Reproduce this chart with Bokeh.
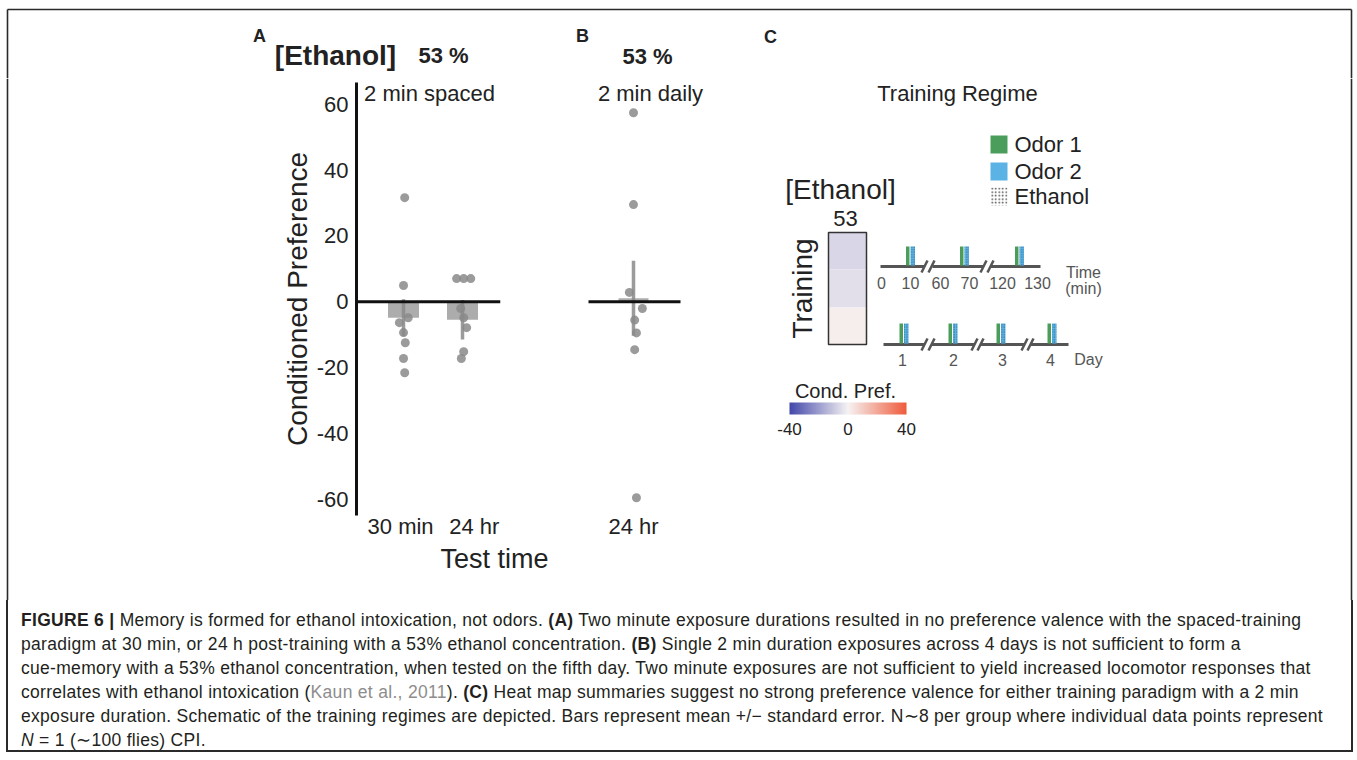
import math
import numpy as np
from bokeh.plotting import figure
from bokeh.models import (Range1d, FixedTicker, Span, LinearColorMapper, Div, ColumnDataSource,
                          Title, PrintfTickFormatter)
from bokeh.layouts import column, row
from bokeh.core.properties import value
from bokeh.embed import file_html
from bokeh.resources import INLINE
from bokeh.transform import linear_cmap

FONT = "Liberation Sans"
W, H = 1357, 760

# ---------------- data ----------------
yticks = [-60, -40, -20, 0, 20, 40, 60]
a_categories = ["30 min", "24 hr"]
a_label_offsets = [-0.05, 0.2]        # tick labels sit slightly off the bar centres
a_means = [-4.9, -5.5]
a_sems = [5.6, 6.0]
a_30min_values = [31.6, 4.9, -4.9, -6.4, -9.4, -12.5, -17.3, -21.6]
a_30min_jitter = [0.02, 0.0, 0.08, -0.07, 0.0, 0.03, 0.0, 0.02]
a_24hr_values = [7.0, 7.0, 7.0, -2.1, -4.9, -7.9, -15.2, -17.3]
a_24hr_jitter = [-0.10, 0.02, 0.14, -0.03, 0.02, 0.07, 0.02, -0.02]

b_categories = ["24 hr"]
b_means = [1.0]
b_sems = [11.4]
b_24hr_values = [57.4, 29.5, 2.8, -2.1, -5.6, -9.5, -14.6, -59.6]
b_24hr_jitter = [0.0, 0.0, -0.07, 0.15, 0.02, 0.05, 0.02, 0.05]

heat_rows = ["spaced 30 min", "spaced 24 hr", "daily 24 hr"]   # top to bottom
heat_values = [-6.5, -4.5, 1.5]
cbar_ticks = [-40, 0, 40]

spaced_tick_labels = ["0", "10", "60", "70", "120", "130"]
daily_tick_labels = ["1", "2", "3", "4"]
legend_labels = ["Odor 1", "Odor 2", "Ethanol"]

caption_lines = [
    "<b>FIGURE 6 |</b> Memory is formed for ethanol intoxication, not odors. <b>(A)</b> Two minute exposure durations resulted in no preference valence with the spaced-training",
    "paradigm at 30 min, or 24 h post-training with a 53% ethanol concentration. <b>(B)</b> Single 2 min duration exposures across 4 days is not sufficient to form a",
    "cue-memory with a 53% ethanol concentration, when tested on the fifth day. Two minute exposures are not sufficient to yield increased locomotor responses that",
    "correlates with ethanol intoxication (<span style=\"color:#8d8d8d\">Kaun et al., 2011</span>). <b>(C)</b> Heat map summaries suggest no strong preference valence for either training paradigm with a 2 min",
    "exposure duration. Schematic of the training regimes are depicted. Bars represent mean +/&minus; standard error. N&sim;8 per group where individual data points represent",
    "<i>N</i> = 1 (&sim;100 flies) CPI.",
]

# ---------------- styles ----------------
INK = "#222222"
GREY_TXT = "#555555"
DOT = "#8a8a8a"
BAR = "#a3a3a3"
GREEN = "#4a9d5b"
BLUE = "#5ab3e4"
FRAME = "#2a2a2a"


def hex2rgb(h):
    h = h.lstrip("#")
    return tuple(int(h[i:i + 2], 16) for i in (0, 2, 4))


def make_palette(c_lo, c_mid, c_hi, n=256):
    lo, mid, hi = hex2rgb(c_lo), hex2rgb(c_mid), hex2rgb(c_hi)
    out = []
    for i in range(n):
        t = i / (n - 1)
        a, b, u = (lo, mid, t / 0.5) if t < 0.5 else (mid, hi, (t - 0.5) / 0.5)
        out.append("#%02x%02x%02x" % tuple(int(round(a[k] + (b[k] - a[k]) * u)) for k in range(3)))
    return out


palette = make_palette("#4347a9", "#f6f3f3", "#ef5b3c")
mapper = LinearColorMapper(palette=palette, low=-40, high=40)


def canvas(x0, x1, y0, y1):
    """A figure whose frame fills it, with page-pixel coordinates."""
    p = figure(width=x1 - x0, height=y1 - y0, x_range=Range1d(x0, x1), y_range=Range1d(y1, y0),
               title=None, x_axis_location=None, y_axis_location=None, toolbar_location=None,
               output_backend="svg", min_border=0, frame_align=False)
    p.outline_line_color = None
    p.grid.visible = False
    return p


def txt(p, x, y, s, size, bold=False, align="center", color=INK, angle=0.0):
    p.text(x=[x], y=[y], text=[s], text_font=value(FONT), text_font_size=f"{size}px",
           text_font_style="bold" if bold else "normal", text_align=align,
           text_baseline="middle", text_color=color, angle=angle)


def vline(p, x, y0, y1):
    p.segment(x0=[x], y0=[y0], x1=[x], y1=[y1], line_color=FRAME, line_width=1.6)


# ================= top strip (y 0..78) =================
TOP = 78
ft = canvas(0, W, 0, TOP)
ft.segment(x0=[7], y0=[9], x1=[1351], y1=[9], line_color=FRAME, line_width=1.6)
vline(ft, 7, 9, TOP)
vline(ft, 1351, 9, TOP)
txt(ft, 259, 35, "A", 18, bold=True)
txt(ft, 335, 55, "[Ethanol]", 28, bold=True)
txt(ft, 443, 55, "53 %", 22, bold=True)
txt(ft, 582, 35, "B", 18, bold=True)
txt(ft, 647, 56, "53 %", 22, bold=True)
txt(ft, 770, 36, "C", 18, bold=True)

# ================= left strip =================
BOT = 600
fl = canvas(0, 270, TOP, BOT)
vline(fl, 7, TOP, BOT)

# ================= panel A =================
YR = (-65.0, 66.6)          # axis from y=82 to y=515 on the page
PX_X = 59.0                 # px per category unit
PX_Y = 3.29                 # px per preference unit
A_RIGHT = 565

pa = figure(width=A_RIGHT - 270, height=BOT - TOP, title=None,
            x_range=Range1d(-0.797, 1.644), y_range=Range1d(*YR),
            min_border_left=356 - 270, min_border_right=A_RIGHT - 500,
            min_border_top=82 - TOP, min_border_bottom=BOT - 515,
            toolbar_location=None, output_backend="svg", frame_align=False)
pa.outline_line_color = None
pa.grid.visible = False
a_x = [0, 1]
pa.vbar(x=a_x, top=a_means, bottom=0, width=31 / PX_X, fill_color=BAR, fill_alpha=0.9, line_color=None)
pa.segment(x0=a_x, x1=a_x, y0=[m - s for m, s in zip(a_means, a_sems)],
           y1=[m + s for m, s in zip(a_means, a_sems)], line_color="#8a8a8a", line_width=3.5, line_alpha=0.85)
pa.scatter(x=[0 + j for j in a_30min_jitter], y=a_30min_values, size=9, fill_color=DOT,
           fill_alpha=0.85, line_color=None)
pa.scatter(x=[1 + j for j in a_24hr_jitter], y=a_24hr_values, size=9, fill_color=DOT,
           fill_alpha=0.85, line_color=None)
pa.add_layout(Span(location=0, dimension="width", line_color="#111111", line_width=3))
txt(pa, (429 - 403) / PX_X, (301 - 93) / PX_Y, "2 min spaced", 22)

ya = pa.yaxis[0]
ya.ticker = FixedTicker(ticks=yticks)
ya.formatter = PrintfTickFormatter(format="%d")
ya.axis_line_color = "#111111"
ya.axis_line_width = 3
ya.major_tick_line_color = None
ya.minor_tick_line_color = None
ya.major_label_text_font = FONT
ya.major_label_text_font_size = "22px"
ya.major_label_text_color = INK
ya.major_label_standoff = 2
ya.axis_label = "Conditioned Preference"
ya.axis_label_text_font = FONT
ya.axis_label_text_font_size = "28px"
ya.axis_label_text_font_style = "normal"
ya.axis_label_text_color = INK
ya.axis_label_standoff = 1

a_tick_pos = [c + o for c, o in zip(a_x, a_label_offsets)]
xa = pa.xaxis[0]
xa.ticker = FixedTicker(ticks=a_tick_pos)
xa.major_label_overrides = {t: c for t, c in zip(a_tick_pos, a_categories)}
xa.axis_line_color = None
xa.major_tick_line_color = None
xa.minor_tick_line_color = None
xa.major_label_text_font = FONT
xa.major_label_text_font_size = "22px"
xa.major_label_text_color = INK
xa.major_label_standoff = -8
pa.add_layout(Title(text="Test time", align="left", offset=440 - 356, standoff=0,
                    text_font=FONT, text_font_size="27px", text_font_style="normal",
                    text_color=INK), "below")

# ================= panel B =================
pb = figure(width=745 - A_RIGHT, height=BOT - TOP, title=None,
            x_range=Range1d((A_RIGHT - 633) / PX_X, (745 - 633) / PX_X), y_range=Range1d(*YR),
            min_border_left=0, min_border_right=0,
            min_border_top=82 - TOP, min_border_bottom=BOT - 515,
            y_axis_location=None, toolbar_location=None, output_backend="svg", frame_align=False)
pb.outline_line_color = None
pb.grid.visible = False
b_x = [0]
pb.vbar(x=b_x, top=b_means, bottom=0, width=30 / PX_X, fill_color=BAR, fill_alpha=0.9, line_color=None)
pb.segment(x0=b_x, x1=b_x, y0=[m - s for m, s in zip(b_means, b_sems)],
           y1=[m + s for m, s in zip(b_means, b_sems)], line_color="#8a8a8a", line_width=3.5, line_alpha=0.85)
pb.scatter(x=[0 + j for j in b_24hr_jitter], y=b_24hr_values, size=9, fill_color=DOT,
           fill_alpha=0.85, line_color=None)
pb.segment(x0=[(588 - 633) / PX_X], y0=[0], x1=[(680 - 633) / PX_X], y1=[0],
           line_color="#111111", line_width=3)
txt(pb, (650 - 633) / PX_X, (301 - 93) / PX_Y, "2 min daily", 22)
xb = pb.xaxis[0]
xb.ticker = FixedTicker(ticks=b_x)
xb.major_label_overrides = {i: c for i, c in zip(b_x, b_categories)}
xb.axis_line_color = None
xb.major_tick_line_color = None
xb.minor_tick_line_color = None
xb.major_label_text_font = FONT
xb.major_label_text_font_size = "22px"
xb.major_label_text_color = INK
xb.major_label_standoff = -8

# ================= panel C =================
fc = canvas(745, W, TOP, BOT)
vline(fc, 1351, TOP, BOT)
txt(fc, 957, 93, "Training Regime", 22)
txt(fc, 840, 189, "[Ethanol]", 28)
txt(fc, 845, 218, "53", 22)
txt(fc, 802, 288, "Training", 28, angle=math.pi / 2)
txt(fc, 845, 390, "Cond. Pref.", 20)

# legend
leg_tops = [135, 162, 187]
fc.quad(left=[990], right=[1007], top=[leg_tops[0]], bottom=[leg_tops[0] + 18],
        fill_color=GREEN, line_color=None)
fc.quad(left=[990], right=[1007], top=[leg_tops[1]], bottom=[leg_tops[1] + 18],
        fill_color=BLUE, line_color=None)
fc.quad(left=[990], right=[1007], top=[leg_tops[2]], bottom=[leg_tops[2] + 18],
        fill_color="white", line_color=None, hatch_pattern="dot",
        hatch_color="#444444", hatch_scale=3.5, hatch_weight=1.6)
for t, lab in zip(leg_tops, legend_labels):
    txt(fc, 1014, t + 9, lab, 22, align="left")

# heat map
hsrc = ColumnDataSource(dict(row=heat_rows, v=heat_values,
                             top=[232, 269, 307], bottom=[269, 307, 344]))
fc.quad(left=828, right=866, top="top", bottom="bottom", source=hsrc,
        fill_color=linear_cmap("v", palette, -40, 40), line_color=None)
fc.quad(left=[828], right=[866], top=[232], bottom=[344], fill_color=None,
        line_color="#333333", line_width=1.5)

# colour bar (gradient through the same mapper)
grad = np.array([[-40 + 80 * i / 255 for i in range(256)]], dtype=float)
fc.image(image=[grad], x=789, y=402, dw=117, dh=12, color_mapper=mapper)
for t in cbar_ticks:
    txt(fc, 789 + (t + 40) / 80 * 117, 428, str(t), 17)

# training schematic: spaced (minutes)
TL = "#555555"
y_top = 266
for a, b in [(880, 924), (932, 983), (990, 1040)]:
    fc.segment(x0=[a], y0=[y_top], x1=[b], y1=[y_top], line_color=TL, line_width=3)
for sx in [924, 931, 983, 990]:
    fc.segment(x0=[sx - 3], y0=[y_top + 6], x1=[sx + 3], y1=[y_top - 6], line_color=TL, line_width=2.5)
for gx in [905.5, 959.5, 1014.5]:
    fc.quad(left=[gx], right=[gx + 3.5], top=[246], bottom=[y_top - 1], fill_color=GREEN, line_color=None)
    fc.quad(left=[gx + 4.5], right=[gx + 9], top=[246], bottom=[y_top - 1], fill_color=BLUE,
            line_color=None, hatch_pattern="dot", hatch_color="#2f5f80", hatch_scale=2.5, hatch_weight=0.8)
for x, lab in zip([881, 910, 940, 969, 1002, 1037], spaced_tick_labels):
    txt(fc, x, 282, lab, 16, color=GREY_TXT)
txt(fc, 1083, 272, "Time", 16, color=GREY_TXT)
txt(fc, 1083, 288, "(min)", 16, color=GREY_TXT)

# training schematic: daily
y_bot = 344
for a, b in [(883, 924), (931, 974), (980, 1024), (1030, 1068)]:
    fc.segment(x0=[a], y0=[y_bot], x1=[b], y1=[y_bot], line_color=TL, line_width=3)
for sx in [924, 931, 974, 980, 1024, 1030]:
    fc.segment(x0=[sx - 3], y0=[y_bot + 6], x1=[sx + 3], y1=[y_bot - 6], line_color=TL, line_width=2.5)
for gx in [899, 948, 996, 1047]:
    fc.quad(left=[gx], right=[gx + 3.5], top=[323], bottom=[y_bot - 1], fill_color=GREEN, line_color=None)
    fc.quad(left=[gx + 4.5], right=[gx + 9], top=[323], bottom=[y_bot - 1], fill_color=BLUE,
            line_color=None, hatch_pattern="dot", hatch_color="#2f5f80", hatch_scale=2.5, hatch_weight=0.8)
for x, lab in zip([902, 953, 1002, 1050], daily_tick_labels):
    txt(fc, x, 359, lab, 16, color=GREY_TXT)
txt(fc, 1088, 359, "Day", 16, color=GREY_TXT)

# ================= caption =================
html = ('<div style="box-sizing:border-box; margin:0 0 0 6px; width:1347px; height:152px; '
        'border-left:2px solid #2a2a2a; border-right:2px solid #2a2a2a; border-bottom:2px solid #2a2a2a; '
        'border-top:none; padding:8px 0 0 13px; font-family:\'Liberation Sans\', Arial, sans-serif; '
        'font-size:17.5px; letter-spacing:0.3px; line-height:24px; color:#231f20; white-space:nowrap;">'
        + "<br>".join(caption_lines) + "</div>")
cap = Div(text=html, width=W, height=H - BOT, margin=0)

layout = column(ft, row(fl, pa, pb, fc), cap)

open("out.html", "w").write(file_html(layout, INLINE))
